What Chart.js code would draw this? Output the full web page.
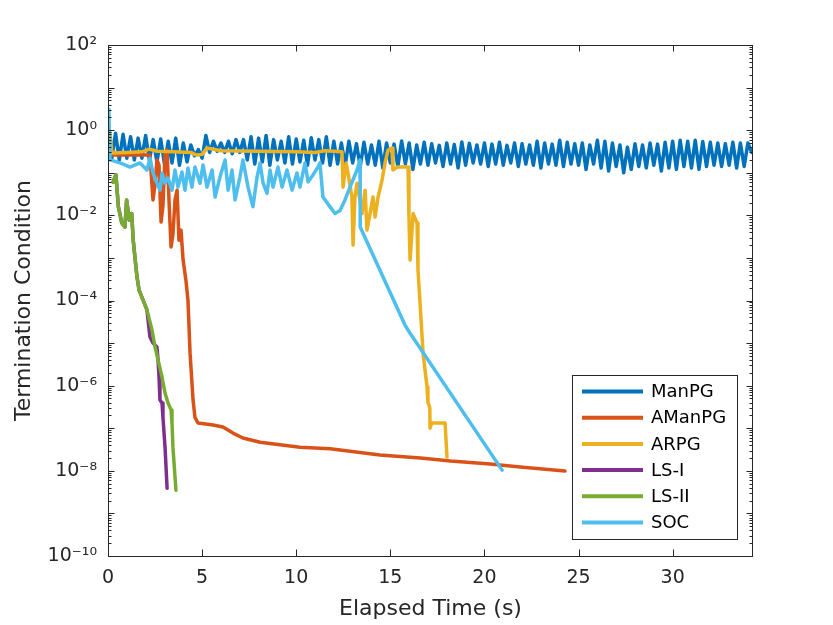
<!DOCTYPE html>
<html>
<head>
<meta charset="utf-8">
<title>Termination Condition vs Elapsed Time</title>
<script src="https://cdn.jsdelivr.net/npm/chart.js@4.4.0/dist/chart.umd.min.js"></script>
<style>
  html, body { margin: 0; padding: 0; background: #fff; }
  #wrap { width: 833px; height: 625px; }
</style>
</head>
<body>
<div id="wrap"><canvas id="chart" width="833" height="625"></canvas></div>
<script>
// --- data ---
const seriesNames = ['ManPG', 'AManPG', 'ARPG', 'LS-I', 'LS-II', 'SOC'];
const seriesColors = ['#0072BD', '#D95319', '#EDB120', '#7E2F8E', '#77AC30', '#4DBEEE'];

// ManPG is sampled on a regular time grid
const manpgStep = 0.2;
const manpgY = [
  0.9, 0.22, 0.85, 0.2, 0.8, 0.22,
  0.7, 0.2, 0.65, 0.22, 0.75, 0.2, 0.6,
  0.18, 0.62, 0.16, 0.55, 0.17, 0.65, 0.15, 0.5, 0.18, 0.45,
  0.25, 0.35, 0.22,
  0.75, 0.3, 0.55, 0.32, 0.5, 0.3, 0.55, 0.28, 0.6, 0.3,
  0.6, 0.2, 0.7, 0.16, 0.65, 0.18, 0.75, 0.15, 0.6, 0.2, 0.55, 0.17, 0.7, 0.16, 0.62, 0.18, 0.58, 0.15, 0.66, 0.2, 0.6, 0.17, 0.7, 0.15, 0.55,
  0.16, 0.5, 0.15, 0.55, 0.17, 0.48, 0.14, 0.52, 0.16, 0.45,
  0.15, 0.55, 0.13, 0.5, 0.17, 0.47, 0.14, 0.56, 0.16, 0.5,
  0.12, 0.45, 0.16, 0.52, 0.15, 0.48, 0.17, 0.44, 0.14, 0.5,
  0.16, 0.46, 0.13, 0.53, 0.15, 0.49, 0.17, 0.45, 0.16, 0.5,
  0.14, 0.47, 0.16, 0.52, 0.15, 0.44, 0.17, 0.5, 0.14, 0.48,
  0.16, 0.45, 0.15, 0.55, 0.13, 0.5, 0.16, 0.47, 0.15, 0.58,
  0.14, 0.52, 0.16, 0.48, 0.15, 0.5, 0.12, 0.45, 0.16, 0.58,
  0.13, 0.55, 0.11, 0.5, 0.14, 0.45, 0.1, 0.4, 0.12, 0.48,
  0.14, 0.45, 0.13, 0.5, 0.15, 0.47, 0.11, 0.52, 0.13, 0.55,
  0.12, 0.58, 0.14, 0.55, 0.13, 0.58, 0.12, 0.54, 0.14, 0.52,
  0.15, 0.5, 0.14, 0.48, 0.15, 0.52, 0.13, 0.5, 0.14, 0.5, 0.3
];

const amanpgX = [0, 0.21, 2.23, 2.39, 2.50, 2.60, 2.71, 2.82, 2.92, 3.03, 3.14, 3.24, 3.35,
  3.45, 3.56, 3.67, 3.77, 3.88, 3.99, 4.14, 4.25, 4.36, 4.52,
  4.62, 4.78, 5.58, 6.11, 6.64, 7.17, 8.08, 10.2, 11.8, 14.45,
  16.6, 18.2, 20.3, 21.9, 24.28];
const amanpgY = [0.34, 0.26, 0.26, 0.023, 0.052, 0.20, 0.15, 0.007, 0.017, 0.26, 0.34, 0.023, 0.0018,
  0.0035, 0.023, 0.039, 0.0026, 0.0045, 0.00089, 0.0003, 1.0e-4, 5.8e-6, 4.6e-7,
  1.8e-7, 1.33e-7, 1.19e-7, 1.07e-7, 7.7e-8, 5.9e-8, 4.7e-8, 3.6e-8, 3.3e-8, 2.35e-8,
  2.0e-8, 1.7e-8, 1.45e-8, 1.23e-8, 9.9e-9];

const arpgX = [0, 0.1, 0.21, 1.0, 1.8, 2.2, 2.6, 3.5, 4.4, 4.7,
  5.0, 5.26, 6.0, 8.0, 10.0, 11.0, 11.5, 12.0, 12.43, 12.49,
  12.65, 12.75, 12.96, 13.02, 13.12, 13.23, 13.50, 13.66, 13.76, 13.92,
  14.08, 14.19, 14.35, 14.56, 14.72, 14.88, 15.09, 15.14, 15.36, 15.94,
  15.99, 16.05, 16.21, 16.42, 16.47, 16.58, 16.74, 16.95, 17.00, 17.10,
  17.11, 17.20, 17.91, 18.01];
const arpgY = [1.0, 0.9, 0.29, 0.30, 0.31, 0.36, 0.32, 0.31, 0.30, 0.26,
  0.27, 0.38, 0.33, 0.32, 0.31, 0.30, 0.33, 0.32, 0.31, 0.046,
  0.17, 0.099, 0.027, 0.0020, 0.027, 0.057, 0.011, 0.039, 0.0045, 0.011,
  0.027, 0.0091, 0.027, 0.067, 0.17, 0.34, 0.38, 0.116, 0.136, 0.136,
  0.0091, 0.00089, 0.011, 0.0066, 0.00052, 8.7e-5, 5.8e-6, 9.3e-7, 4.1e-7, 3.0e-7,
  1.0e-7, 1.33e-7, 1.33e-7, 2.1e-8];

const lsiX = [0.27, 0.42, 0.55, 0.73, 0.90, 0.99, 1.13, 1.26, 1.34, 1.43, 1.54, 1.65,
  1.86, 2.07, 2.23, 2.39, 2.60, 2.66, 2.71, 2.76, 2.87, 2.92, 3.03, 3.14];
const lsiY = [0.06, 0.09, 0.016, 0.0066, 0.0053, 0.023, 0.0078, 0.011, 0.0026, 0.00105, 0.00036, 0.000176,
  1.03e-4, 6.0e-5, 1.39e-5, 1.0e-5, 8.1e-6, 4.0e-6, 1.6e-6, 4.6e-7, 3.9e-7, 1.8e-7, 3.6e-8, 3.9e-9];

const lsiiX = [0.27, 0.42, 0.55, 0.73, 0.90, 0.99, 1.13, 1.26, 1.34, 1.43, 1.54, 1.65,
  1.86, 2.07, 2.34, 2.50, 2.66, 2.87, 3.03, 3.19, 3.35, 3.40, 3.45, 3.61];
const lsiiY = [0.06, 0.09, 0.016, 0.0066, 0.0053, 0.023, 0.0078, 0.011, 0.0026, 0.00105, 0.00036, 0.000176,
  1.03e-4, 6.0e-5, 2.0e-5, 8.1e-6, 4.0e-6, 1.6e-6, 6.7e-7, 3.9e-7, 2.7e-7, 1.33e-7, 3.6e-8, 3.5e-9];

const socX = [0, 0.05, 0.11, 0.64, 1.17, 1.70, 2.07, 2.23, 2.39, 2.60,
  2.76, 2.87, 3.03, 3.19, 3.40, 3.56, 3.72, 3.93, 4.09, 4.25,
  4.46, 4.62, 4.89, 5.05, 5.26, 5.53, 5.69, 5.95, 6.22, 6.38,
  6.59, 6.75, 7.01, 7.17, 7.44, 7.70, 7.92, 8.08, 8.24, 8.45,
  8.61, 8.77, 9.03, 9.25, 9.51, 9.78, 10.04, 10.20, 10.47, 10.63,
  10.89, 11.16, 11.26, 11.42, 11.79, 12.06, 12.33, 12.59, 12.86, 13.23,
  13.39, 13.40, 15.78, 16.05, 20.94];
const socY = [3.1, 2.0, 0.20, 0.17, 0.136, 0.17, 0.116, 0.22, 0.099, 0.057,
  0.039, 0.099, 0.057, 0.075, 0.039, 0.116, 0.046, 0.104, 0.039, 0.129,
  0.046, 0.136, 0.057, 0.152, 0.046, 0.116, 0.027, 0.079, 0.20, 0.039,
  0.116, 0.023, 0.079, 0.20, 0.046, 0.016, 0.079, 0.17, 0.057, 0.033,
  0.116, 0.046, 0.136, 0.046, 0.116, 0.039, 0.099, 0.046, 0.17, 0.061,
  0.089, 0.136, 0.17, 0.027, 0.016, 0.011, 0.013, 0.023, 0.046, 0.116,
  0.20, 0.0053, 2.65e-5, 1.7e-5, 1.04e-8];

const xTicks = [0, 5, 10, 15, 20, 25, 30];
const xMax = 34.27;
const yTickValues = [1e-10, 1e-8, 1e-6, 1e-4, 1e-2, 1, 100];
const yTickLabels = ['10⁻¹⁰', '10⁻⁸', '10⁻⁶', '10⁻⁴', '10⁻²', '10⁰', '10²'];

// --- styling ---
const fontFamily = '"DejaVu Sans", "Liberation Sans", sans-serif';
const axisColor = '#262626';

const manpgX = manpgY.map((_, i) => +(i * manpgStep).toFixed(2));
const toPoints = (xs, ys) => xs.map((x, i) => ({ x: x, y: ys[i] }));
const seriesPoints = [
  toPoints(manpgX, manpgY),
  toPoints(amanpgX, amanpgY),
  toPoints(arpgX, arpgY),
  toPoints(lsiX, lsiY),
  toPoints(lsiiX, lsiiY),
  toPoints(socX, socY)
];

// later series sit on top, like MATLAB's plot order
const datasets = seriesNames.map((name, i) => ({
  label: name,
  data: seriesPoints[i],
  borderColor: seriesColors[i],
  backgroundColor: seriesColors[i],
  borderWidth: 3.5,
  borderJoinStyle: 'round',
  borderCapStyle: 'round',
  pointRadius: 0,
  tension: 0,
  fill: false,
  order: seriesNames.length - i
}));

// Box, inward ticks and minor log ticks on top of the data
const matlabAxes = {
  id: 'matlabAxes',
  afterDatasetsDraw(chart) {
    const { ctx, chartArea: a, scales: { x, y } } = chart;
    ctx.save();
    ctx.strokeStyle = axisColor;
    ctx.lineWidth = 1;
    ctx.beginPath();
    xTicks.forEach(v => {
      const px = Math.round(x.getPixelForValue(v)) + 0.5;
      ctx.moveTo(px, a.bottom); ctx.lineTo(px, a.bottom - 6.5);
      ctx.moveTo(px, a.top); ctx.lineTo(px, a.top + 6.5);
    });
    for (let e = -10; e <= 2; e++) {
      for (let m = 1; m <= 9; m++) {
        const v = m * Math.pow(10, e);
        if (v > 100.0001) break;
        const len = m === 1 ? 6.5 : 3.5;
        const py = Math.round(y.getPixelForValue(v)) + 0.5;
        ctx.moveTo(a.left, py); ctx.lineTo(a.left + len, py);
        ctx.moveTo(a.right, py); ctx.lineTo(a.right - len, py);
      }
    }
    ctx.stroke();
    ctx.strokeRect(a.left + 0.5, a.top + 0.5, a.right - a.left - 1, a.bottom - a.top);
    ctx.restore();
  }
};

// Legend box in the lower right of the axes
const boxLegend = {
  id: 'boxLegend',
  afterDraw(chart) {
    const { ctx, chartArea: a } = chart;
    const left = a.right - 181, top = a.bottom - 181, w = 165, h = 164;
    ctx.save();
    ctx.fillStyle = '#fff';
    ctx.fillRect(left, top, w, h);
    ctx.strokeStyle = axisColor;
    ctx.lineWidth = 1;
    ctx.strokeRect(left + 0.5, top + 0.5, w, h);
    ctx.font = '18px ' + fontFamily;
    ctx.textBaseline = 'middle';
    ctx.textAlign = 'left';
    chart.data.datasets.forEach((ds, i) => {
      const yy = top + 16.5 + i * 26.2;
      ctx.strokeStyle = ds.borderColor;
      ctx.lineWidth = 4;
      ctx.beginPath();
      ctx.moveTo(left + 10, yy);
      ctx.lineTo(left + 71, yy);
      ctx.stroke();
      ctx.fillStyle = '#000';
      ctx.fillText(ds.label, left + 79, yy + 1);
    });
    ctx.restore();
  }
};

new Chart(document.getElementById('chart'), {
  type: 'line',
  data: { datasets: datasets },
  options: {
    responsive: false,
    animation: false,
    layout: { padding: { left: 0, right: 80, top: 45, bottom: 0 } },
    plugins: { legend: { display: false }, tooltip: { enabled: false } },
    scales: {
      x: {
        type: 'linear',
        min: 0,
        max: xMax,
        grid: { display: false, drawTicks: false },
        border: { display: false },
        afterBuildTicks: s => { s.ticks = xTicks.map(v => ({ value: v })); },
        afterFit: s => { s.height = 69; },
        ticks: {
          autoSkip: false, maxRotation: 0, padding: 11, color: axisColor,
          font: { family: fontFamily, size: 19 }
        },
        title: {
          display: true, text: 'Elapsed Time (s)', color: axisColor,
          font: { family: fontFamily, size: 22 },
          padding: { top: 0, bottom: 3 }
        }
      },
      y: {
        type: 'logarithmic',
        min: 1e-10,
        max: 100,
        grid: { display: false, drawTicks: false },
        border: { display: false },
        afterBuildTicks: s => { s.ticks = yTickValues.map(v => ({ value: v })); },
        afterFit: s => { s.width = 108; },
        ticks: {
          autoSkip: false, padding: 11, color: axisColor,
          font: { family: fontFamily, size: 19 },
          callback: (v, i) => yTickLabels[i]
        },
        title: {
          display: true, text: 'Termination Condition', color: axisColor,
          font: { family: fontFamily, size: 22 },
          padding: { top: 11, bottom: 0 }
        }
      }
    }
  },
  plugins: [matlabAxes, boxLegend]
});
</script>
</body>
</html>
